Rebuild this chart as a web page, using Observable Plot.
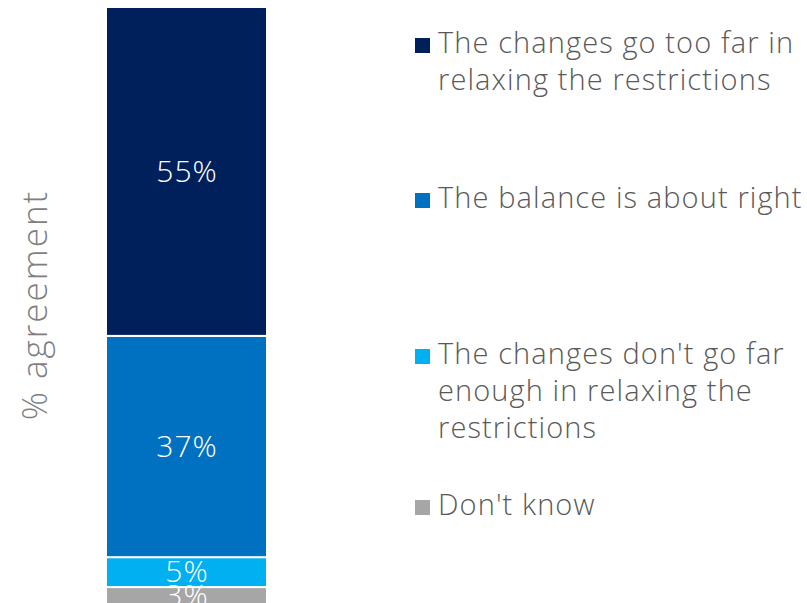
<!DOCTYPE html>
<html><head><meta charset="utf-8">
<script src="https://cdn.jsdelivr.net/npm/d3@7"></script>
<script src="https://cdn.jsdelivr.net/npm/@observablehq/plot@0.6"></script>
<style>
html,body{margin:0;padding:0;background:#fff;overflow:hidden;}
#wrap{position:relative;width:807px;height:603px;font-family:"Open Sans","Noto Sans",sans-serif;font-weight:300;}
#ylab{position:absolute;left:33px;top:305px;transform:translate(-50%,-50%) rotate(-90deg);font-size:35px;letter-spacing:2px;color:#7f7f7f;white-space:nowrap;}
.leg{position:absolute;left:413px;font-size:29px;letter-spacing:1.1px;line-height:37px;color:#595959;}
.leg .sw{position:absolute;left:2px;top:15px;width:15px;height:15px;}
.leg .tx{margin-left:25px;white-space:nowrap;}
</style></head>
<body><div id="wrap"><div id="chart"></div><div id="ylab"></div></div>
<script>
const categories = ["Don't know", "The changes don't go far enough in relaxing the restrictions", "The balance is about right", "The changes go too far in relaxing the restrictions"];
const values = [3, 5, 37, 55];
const colors = ["#A6A6A6", "#00B0F0", "#0070C0", "#00205B"];
const legendLines = [
  ["The changes go too far in", "relaxing the restrictions"],
  ["The balance is about right"],
  ["The changes don't go far", "enough in relaxing the", "restrictions"],
  ["Don't know"]
];
const legendColors = ["#00205B", "#0070C0", "#00B0F0", "#A6A6A6"];
const legendTops = [23, 178, 334, 485];
const yLabel = "% agreement";

const data = categories.map((c, i) => ({group: "All", cat: c, v: values[i]}));

const chart = Plot.plot({
  width: 807, height: 603,
  margin: 0,
  style: {fontFamily: "'Open Sans', 'Noto Sans', sans-serif", fontWeight: 300, letterSpacing: "1px", background: "#fff"},
  x: {domain: ["All"], range: [106, 267], padding: 0, axis: null},
  y: {domain: [0, 100], range: [605, 7], axis: null},
  color: {domain: categories, range: colors},
  marks: [
    Plot.barY(data, {x: "group", y: "v", fill: "cat", stroke: "#fff", strokeWidth: 2, inset: 0}),
    Plot.text(data, Plot.stackY({x: "group", y: "v", text: d => d.v + "%", fill: "#fff", fontSize: 30}))
  ]
});
document.getElementById("chart").appendChild(chart);
document.getElementById("ylab").textContent = yLabel;

const wrap = document.getElementById("wrap");
legendLines.forEach((lines, i) => {
  const d = document.createElement("div");
  d.className = "leg";
  d.style.top = legendTops[i] + "px";
  const sw = document.createElement("div");
  sw.className = "sw"; sw.style.background = legendColors[i];
  d.appendChild(sw);
  lines.forEach(l => { const t = document.createElement("div"); t.className = "tx"; t.textContent = l; d.appendChild(t); });
  wrap.appendChild(d);
});
</script></body></html>
